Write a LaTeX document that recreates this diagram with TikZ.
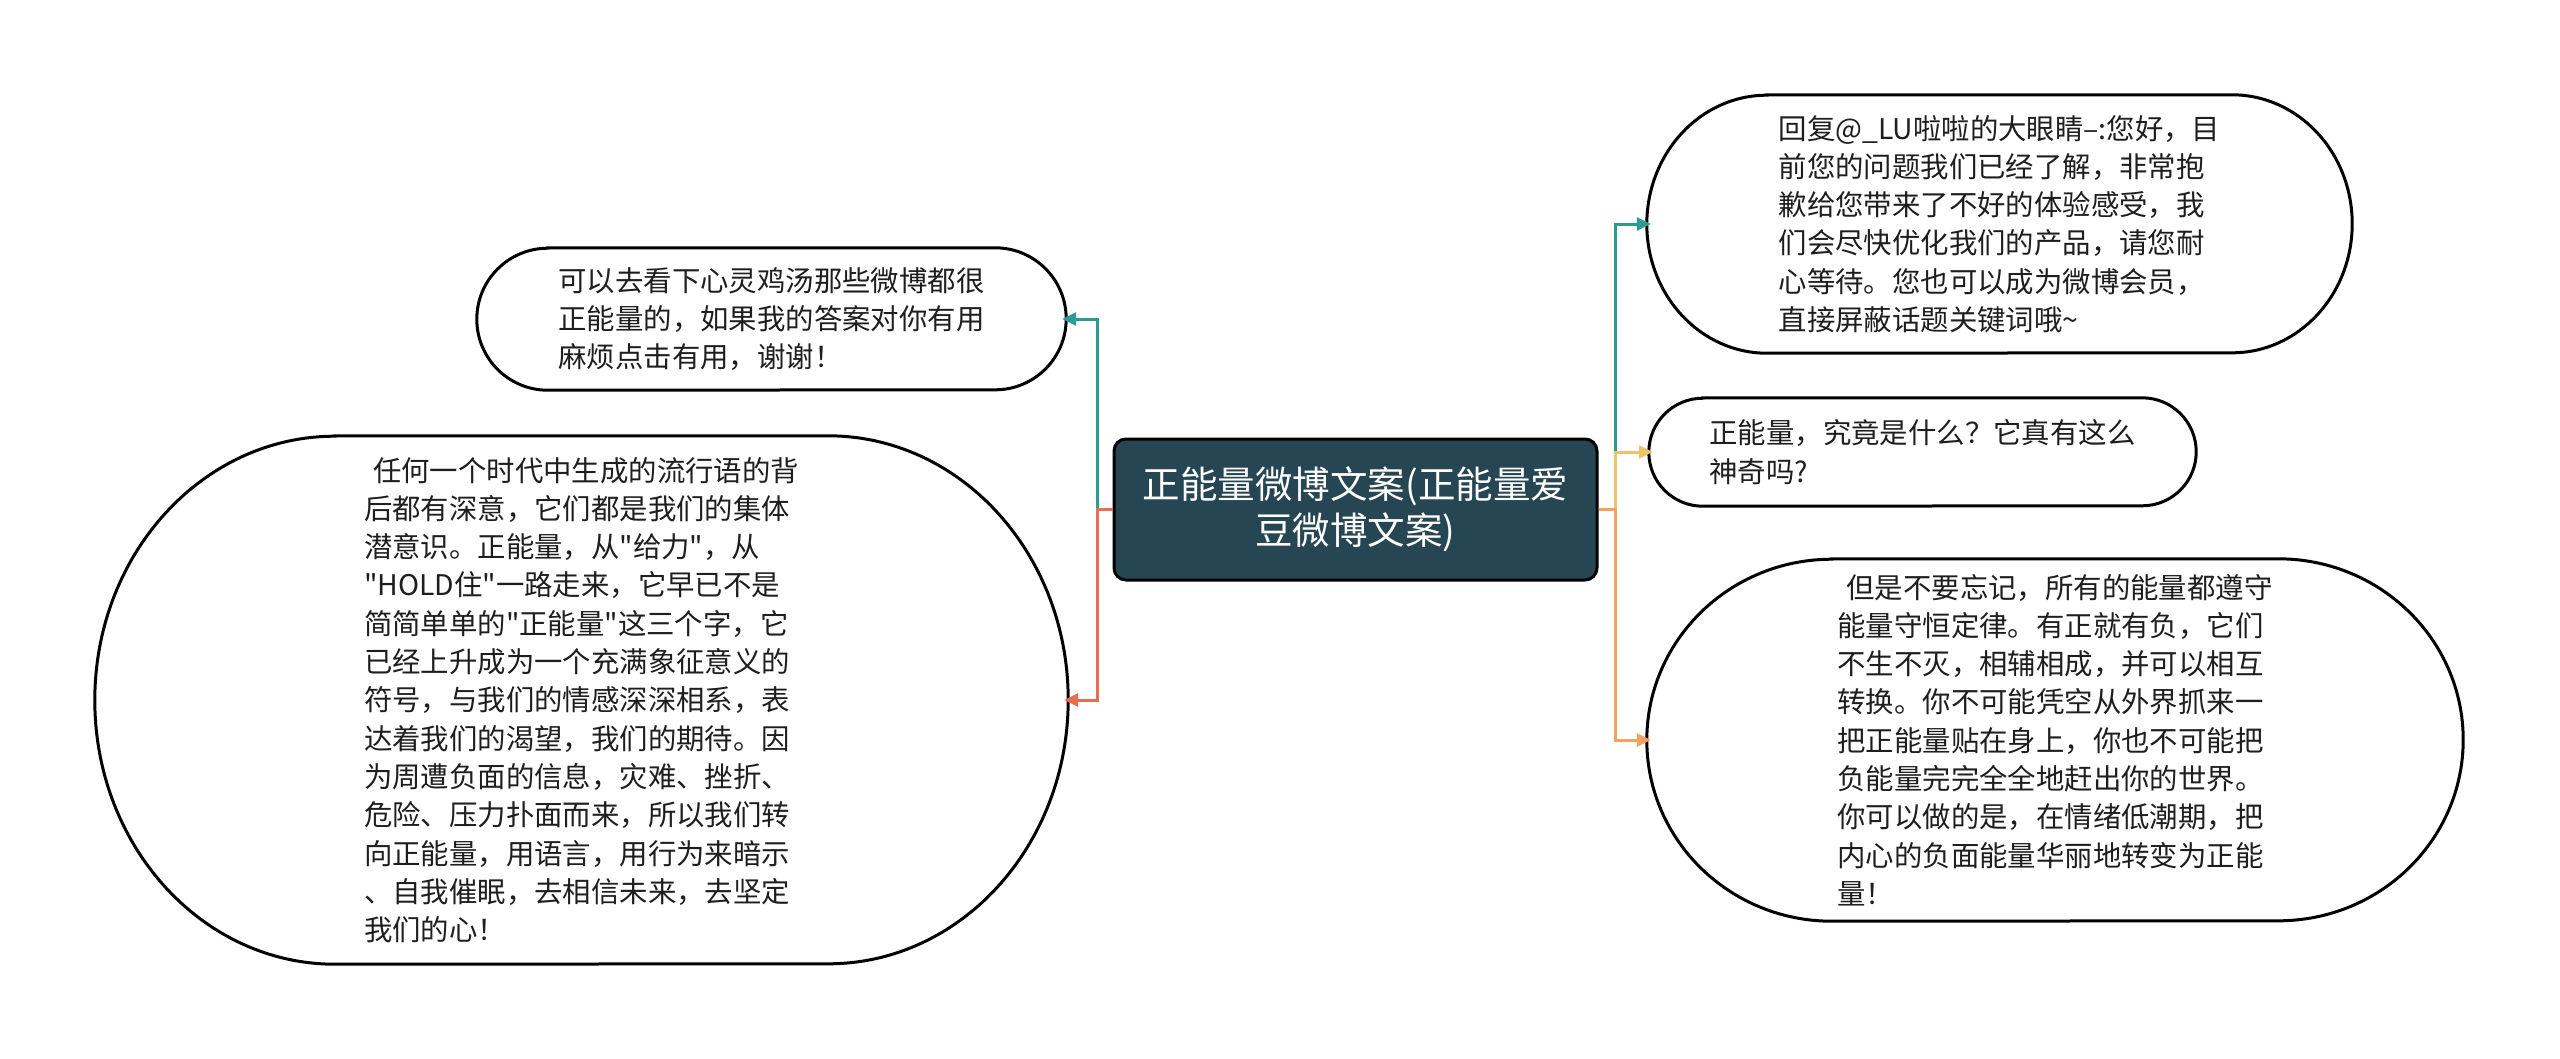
\documentclass[tikz,border=0pt]{standalone}
\usepackage{fontspec}
\newfontfamily\cjk{Noto Sans CJK SC}
\usetikzlibrary{arrows.meta}
\definecolor{cdark}{HTML}{264653}
\definecolor{cteal}{HTML}{2A9D8F}
\definecolor{cyel}{HTML}{E9C46A}
\definecolor{corg}{HTML}{F4A261}
\definecolor{cred}{HTML}{E76F51}
\definecolor{ctext}{HTML}{1E1E1E}
\newcommand\ovaldraw[3]{%
  \draw[ovalline] ([xshift=#2pt]#1.north west) -- ([xshift=-#2pt]#1.north east)
    arc[start angle=90,end angle=-90,x radius=#2pt,y radius=#3pt]
    -- ([xshift=#2pt]#1.south west)
    arc[start angle=270,end angle=90,x radius=#2pt,y radius=#3pt] -- cycle;}
\tikzset{
  ovalline/.style={draw=black,line width=3pt},
  leaf/.style={inner sep=0pt,align=left,text=ctext,
    font=\cjk\fontsize{28.4}{38.3}\selectfont},
  root/.style={draw=black,line width=3pt,fill=cdark,rounded corners=12pt,
    inner sep=0pt,align=center,text=white,
    font=\cjk\fontsize{37.5}{46}\selectfont},
  conn/.style={line width=3pt,-{Triangle[length=14pt,width=13pt]},shorten >=-4pt}
}
\begin{document}
\begin{tikzpicture}[x=1pt,y=1pt]
\path[fill=white] (0,0) rectangle (2560,-1058);
\useasboundingbox (0,0) rectangle (2560,-1058);

% root
\node[root,minimum width=483pt,minimum height=141pt] (c) at (1355.5,-509.5)
  {正能量微博文案(正能量爱\\豆微博文案)};

% left leaves
\node[leaf,minimum width=589pt,minimum height=142pt] (l1) at (771.5,-319)
  {可以去看下心灵鸡汤那些微博都很\\正能量的，如果我的答案对你有用\\麻烦点击有用，谢谢！};
\ovaldraw{l1}{71}{71}

\node[leaf,minimum width=973pt,minimum height=528pt] (l2) at (581.5,-700)
  {\hspace*{9pt}任何一个时代中生成的流行语的背\\
   后都有深意，它们都是我们的集体\\
   潜意识。正能量，从"给力"，从\\
   "HOLD住"一路走来，它早已不是\\
   简简单单的"正能量"这三个字，它\\
   已经上升成为一个充满象征意义的\\
   符号，与我们的情感深深相系，表\\
   达着我们的渴望，我们的期待。因\\
   为周遭负面的信息，灾难、挫折、\\
   危险、压力扑面而来，所以我们转\\
   向正能量，用语言，用行为来暗示\\
   、自我催眠，去相信未来，去坚定\\
   我们的心！};
\ovaldraw{l2}{240}{264}

% right leaves
\node[leaf,minimum width=705pt,minimum height=258pt] (r1) at (1999.5,-224)
  {回复@\_LU啦啦的大眼睛–:您好，目\\
   前您的问题我们已经了解，非常抱\\
   歉给您带来了不好的体验感受，我\\
   们会尽快优化我们的产品，请您耐\\
   心等待。您也可以成为微博会员，\\
   直接屏蔽话题关键词哦\textasciitilde};
\ovaldraw{r1}{120}{129}

\node[leaf,minimum width=547pt,minimum height=108pt] (r2) at (1922.5,-452)
  {正能量，究竟是什么？它真有这么\\神奇吗?};
\ovaldraw{r2}{54}{54}

\node[leaf,minimum width=816pt,minimum height=362pt] (r3) at (2055,-740)
  {\hspace*{9pt}但是不要忘记，所有的能量都遵守\\
   能量守恒定律。有正就有负，它们\\
   不生不灭，相辅相成，并可以相互\\
   转换。你不可能凭空从外界抓来一\\
   把正能量贴在身上，你也不可能把\\
   负能量完完全全地赶出你的世界。\\
   你可以做的是，在情绪低潮期，把\\
   内心的负面能量华丽地转变为正能\\
   量！};
\ovaldraw{r3}{185}{181}

% junctions
\coordinate (lj) at (1097,-509.5);
\coordinate (rj) at (1615,-509.5);

% connectors
\draw[conn,cteal] (c.west) -- (lj) |- (l1.east);
\draw[conn,cred] (c.west) -- (lj) |- (l2.east);
\draw[conn,cteal] (c.east) -- (rj) |- (r1.west);
\draw[conn,cyel] (c.east) -- (rj) |- (r2.west);
\draw[conn,corg] (c.east) -- (rj) |- (r3.west);
\end{tikzpicture}
\end{document}
